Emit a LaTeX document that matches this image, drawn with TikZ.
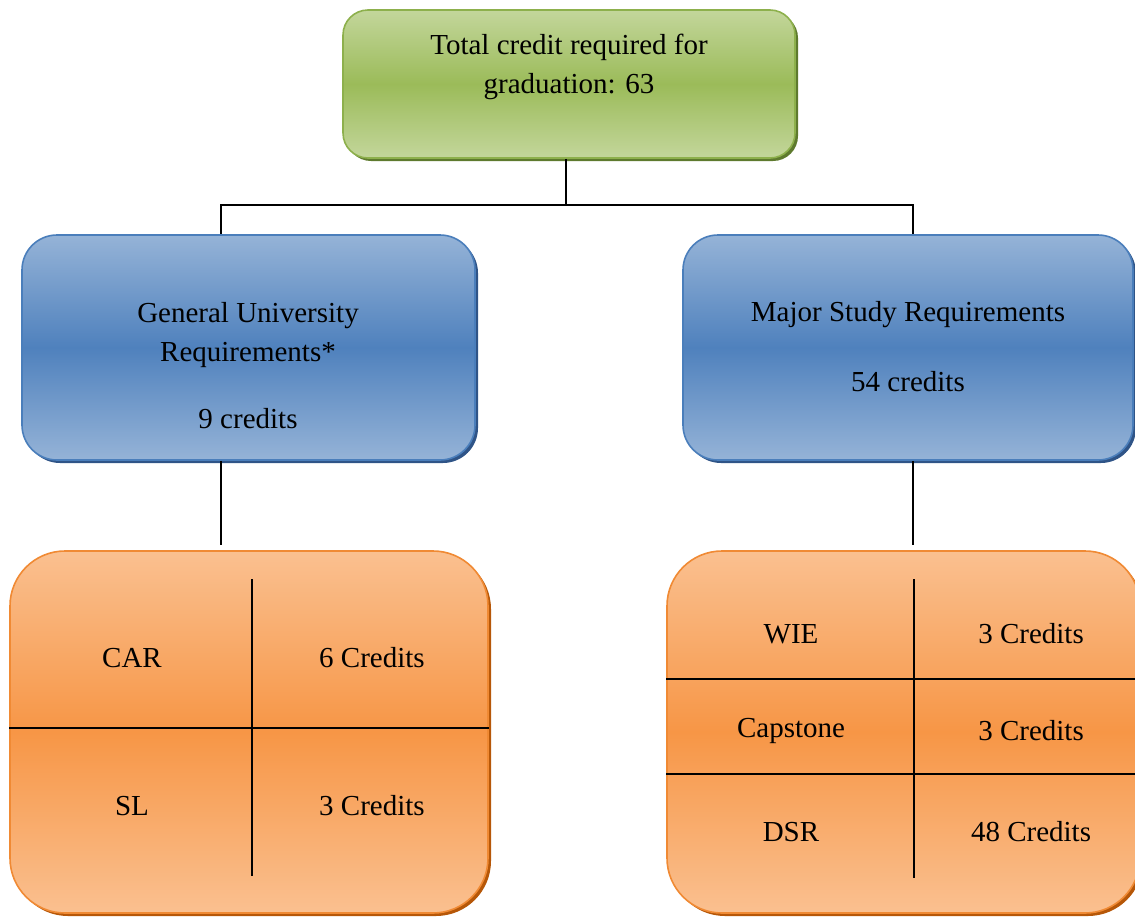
\documentclass[tikz,border=0pt]{standalone}
\usepackage{fontspec}
\setmainfont{Liberation Serif}
\usetikzlibrary{shadows,calc}
\definecolor{gLight}{HTML}{C3D69B}
\definecolor{gMid}{HTML}{9BBB59}
\definecolor{gLine}{HTML}{8DB04C}
\definecolor{gShad}{HTML}{5E7A2E}
\definecolor{bLight}{HTML}{95B3D7}
\definecolor{bMid}{HTML}{4F81BD}
\definecolor{bLine}{HTML}{4A7EBB}
\definecolor{bShad}{HTML}{2F5487}
\definecolor{oLight}{HTML}{FAC090}
\definecolor{oMid}{HTML}{F79646}
\definecolor{oLine}{HTML}{F08A34}
\definecolor{oShad}{HTML}{B65708}
\tikzset{
  box/.style={rounded corners=#1, line width=1.6pt, inner sep=0pt},
  greenbox/.style={box=25pt, draw=gLine, top color=gLight, bottom color=gLight, middle color=gMid,
     general shadow={shadow xshift=3pt, shadow yshift=-3pt, fill=gShad}},
  bluebox/.style={box=35pt, draw=bLine, top color=bLight, bottom color=bLight, middle color=bMid,
     general shadow={shadow xshift=3pt, shadow yshift=-3pt, fill=bShad}},
  orangebox/.style={box=55pt, draw=oLine, top color=oLight, bottom color=oLight, middle color=oMid,
     general shadow={shadow xshift=3pt, shadow yshift=-3pt, fill=oShad}},
  txt/.style={font=\fontsize{29}{39}\selectfont, align=center, inner sep=0pt, text=black},
  conn/.style={line width=1.3pt, black},
  grid/.style={line width=1.6pt, black}
}
\begin{document}
\begin{tikzpicture}[x=1pt,y=-1pt]
\useasboundingbox (0,0) rectangle (1135,916);
% boxes
\node[greenbox, minimum width=452pt, minimum height=148pt] (top) at (569,84) {};
\node[bluebox, minimum width=453pt, minimum height=225pt] (gur) at (248.5,347.5) {};
\node[bluebox, minimum width=450pt, minimum height=225pt] (msr) at (908,347.5) {};
\node[orangebox, minimum width=478pt, minimum height=362pt] (gtab) at (249,732) {};
\node[orangebox, minimum width=473pt, minimum height=362pt] (mtab) at (903.5,732) {};
% texts
\node[txt] (ttop) at (569,67) {Total credit required for\\graduation: 63};
\node[txt] (tgur) at (248,335) {General University\\Requirements*};
\node[txt] (tgurc) at (248,419) {9 credits};
\node[txt] (tmsr) at (908,315) {Major Study Requirements};
\node[txt] (tmsrc) at (908,382) {54 credits};
% connectors
\coordinate (topout) at (566,0);
\coordinate (j) at (566,205);
\coordinate (gurin) at (221,0);
\coordinate (msrin) at (913,0);
\draw[conn] (topout |- top.south) -- (j);
\draw[conn] (j) -| (gurin |- gur.north);
\draw[conn] (j) -| (msrin |- msr.north);
\coordinate (gend) at (221,545);
\coordinate (mend) at (913,545);
\draw[conn] (gurin |- gur.south) -- (gend);
\draw[conn] (msrin |- msr.south) -- (mend);
% left table
\draw[grid] (252,579) -- (252,876);
\draw[grid] (gtab.west |- 0,728) -- (gtab.east |- 0,728);
\node[txt] (car) at (132,658) {CAR};
\node[txt] (carc) at (372,658) {6 Credits};
\node[txt] (sl) at (132,806) {SL};
\node[txt] (slc) at (372,806) {3 Credits};
% right table
\draw[grid] (914,579) -- (914,878);
\draw[grid] (mtab.west |- 0,679) -- (mtab.east |- 0,679);
\draw[grid] (mtab.west |- 0,774) -- (mtab.east |- 0,774);
\node[txt] (wie) at (791,634) {WIE};
\node[txt] (wiec) at (1031,634) {3 Credits};
\node[txt] (cap) at (791,731) {Capstone};
\node[txt] (capc) at (1031,731) {3 Credits};
\node[txt] (dsr) at (791,832) {DSR};
\node[txt] (dsrc) at (1031,832) {48 Credits};
\end{tikzpicture}
\end{document}
